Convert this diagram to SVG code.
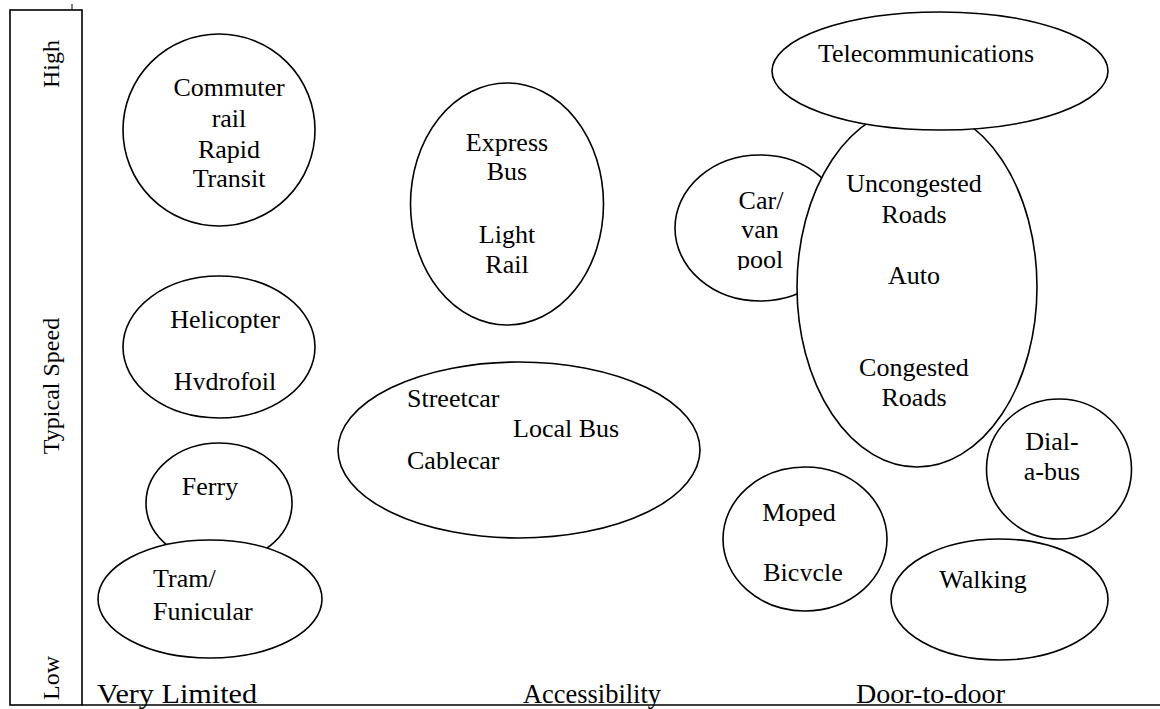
<svg xmlns="http://www.w3.org/2000/svg" width="1160" height="709" viewBox="0 0 1160 709">
<style>
.n ellipse{fill:#fff;stroke:#000;stroke-width:1.6}
text{font-family:"Liberation Serif","Times New Roman",serif;font-size:26px;fill:#000}
.m{text-anchor:middle}
.ax{font-size:24px}
.bl{font-size:28px}
</style>
<defs>
<clipPath id="cPool"><rect x="700" y="150" width="120" height="120"/></clipPath>
<clipPath id="cHyd"><rect x="120" y="280" width="220" height="110"/></clipPath>
<clipPath id="cBic"><rect x="720" y="460" width="170" height="121"/></clipPath>
</defs>
<rect width="1160" height="709" fill="#fff"/>
<g id="axes" fill="none" stroke="#000" stroke-width="1.6">
<rect x="10" y="10" width="72" height="695"/>
<line x1="82" y1="705" x2="1160" y2="705"/>
<line x1="72" y1="4" x2="72" y2="10" stroke-width="1"/>
</g>
<g id="axis-labels">
<text class="ax m" transform="translate(59,64) rotate(-90)">High</text>
<text class="ax m" transform="translate(59,386) rotate(-90)">Typical Speed</text>
<text class="ax m" transform="translate(59,678) rotate(-90)">Low</text>
<text class="bl" x="97" y="703" textLength="160" lengthAdjust="spacingAndGlyphs">Very Limited</text>
<text class="bl" x="523" y="703" textLength="138" lengthAdjust="spacingAndGlyphs">Accessibility</text>
<text class="bl" x="856" y="703" textLength="149" lengthAdjust="spacingAndGlyphs">Door-to-door</text>
</g>
<g id="connectors"></g>
<g id="commuter" class="n">
<ellipse cx="219" cy="130" rx="96" ry="96"/>
<text class="m" x="229" y="96">Commuter</text>
<text class="m" x="229" y="127">rail</text>
<text class="m" x="229" y="158">Rapid</text>
<text class="m" x="229" y="187">Transit</text>
</g>
<g id="express" class="n">
<ellipse cx="507" cy="204" rx="96.5" ry="121"/>
<text class="m" x="507" y="151">Express</text>
<text class="m" x="507" y="180">Bus</text>
<text class="m" x="507" y="243">Light</text>
<text class="m" x="507" y="273">Rail</text>
</g>
<g id="carpool" class="n">
<ellipse cx="760" cy="228" rx="85" ry="73"/>
<g clip-path="url(#cPool)">
<text class="m" x="761" y="209">Car/</text>
<text class="m" x="760" y="238">van</text>
<text class="m" x="760" y="268">pool</text>
</g>
</g>
<g id="auto" class="n">
<ellipse cx="917" cy="287" rx="120" ry="180"/>
<text class="m" x="914" y="192">Uncongested</text>
<text class="m" x="914" y="223">Roads</text>
<text class="m" x="914" y="284">Auto</text>
<text class="m" x="914" y="376">Congested</text>
<text class="m" x="914" y="406">Roads</text>
</g>
<g id="telecom" class="n">
<ellipse cx="940" cy="71" rx="168" ry="59"/>
<text class="m" x="926" y="62">Telecommunications</text>
</g>
<g id="helicopter" class="n">
<ellipse cx="219" cy="347" rx="96" ry="71"/>
<g clip-path="url(#cHyd)">
<text class="m" x="225" y="328">Helicopter</text>
<text class="m" x="225" y="390">Hydrofoil</text>
</g>
</g>
<g id="streetcar" class="n">
<ellipse cx="519" cy="450" rx="181" ry="88"/>
<text x="407" y="407">Streetcar</text>
<text x="513" y="437">Local Bus</text>
<text x="407" y="469">Cablecar</text>
</g>
<g id="ferry" class="n">
<ellipse cx="219" cy="503" rx="73" ry="60"/>
<text class="m" x="210" y="495">Ferry</text>
</g>
<g id="tram" class="n">
<ellipse cx="210" cy="599" rx="112" ry="59"/>
<text x="153" y="587">Tram/</text>
<text x="153" y="620">Funicular</text>
</g>
<g id="moped" class="n">
<ellipse cx="805" cy="539" rx="82" ry="72"/>
<g clip-path="url(#cBic)">
<text class="m" x="799" y="521">Moped</text>
<text class="m" x="803" y="581">Bicycle</text>
</g>
</g>
<g id="dialabus" class="n">
<ellipse cx="1059" cy="469" rx="72.5" ry="70"/>
<text class="m" x="1052" y="450">Dial-</text>
<text class="m" x="1052" y="480">a-bus</text>
</g>
<g id="walking" class="n">
<ellipse cx="999.5" cy="599.5" rx="108.5" ry="60.5"/>
<text class="m" x="983" y="588">Walking</text>
</g>
</svg>
